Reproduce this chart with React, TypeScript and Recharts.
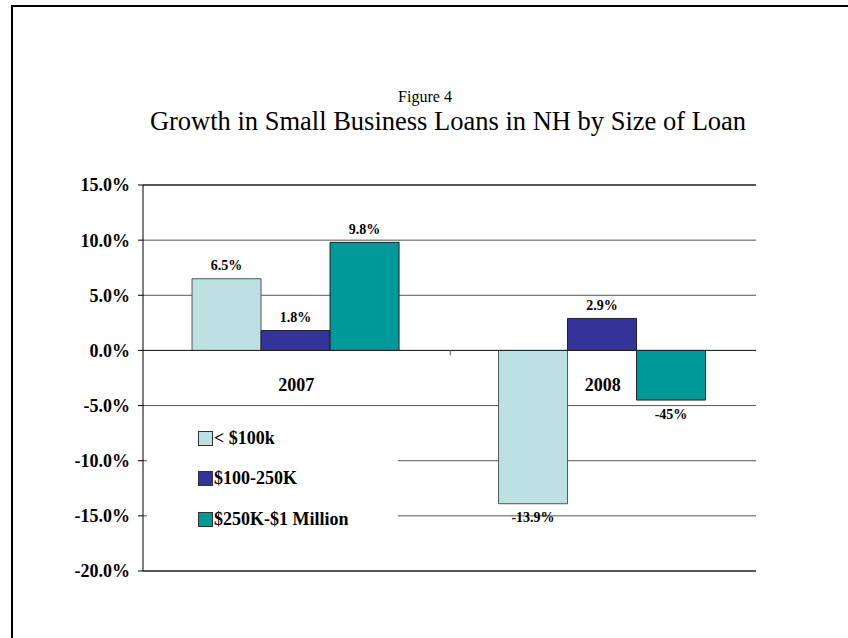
import { BarChart, Bar, XAxis, YAxis, CartesianGrid, Legend, LabelList, ReferenceLine } from 'recharts';

const years = ['2007', '2008'];
const under100k = [6.5, -13.9];
const k100to250 = [1.8, 2.9];
const k250to1m = [9.8, -4.5];
// label text as printed on the figure
const under100kLabels = ['6.5%', '-13.9%'];
const k100to250Labels = ['1.8%', '2.9%'];
const k250to1mLabels = ['9.8%', '-45%'];
const yTicks = [15, 10, 5, 0, -5, -10, -15, -20];

const SERIES = [
  { key: 'a', name: '< $100k', color: '#bde0e3', stroke: '#555', labels: under100kLabels },
  { key: 'b', name: '$100-250K', color: '#333399', stroke: '#222', labels: k100to250Labels },
  { key: 'c', name: '$250K-$1 Million', color: '#009999', stroke: '#222', labels: k250to1mLabels },
];

const data = years.map((year, i) => ({
  year,
  a: under100k[i],
  b: k100to250[i],
  c: k250to1m[i],
}));

const FONT = '"Liberation Serif", "Times New Roman", serif';
const PLOT_TOP = 185;
const PLOT_BOTTOM = 571;
const DOMAIN: [number, number] = [-20, 15];
const zeroY = PLOT_TOP + ((PLOT_BOTTOM - PLOT_TOP) * DOMAIN[1]) / (DOMAIN[1] - DOMAIN[0]);

const makeLabel = (labels: string[]) => (props: any) => {
  const { x, y, width, height, index, value } = props;
  const top = Math.min(y, y + height);
  const bottom = Math.max(y, y + height);
  const ty = value >= 0 ? top - 13 : bottom + 14;
  return (
    <text
      x={x + width / 2}
      y={ty}
      textAnchor="middle"
      dominantBaseline="central"
      fontFamily={FONT}
      fontWeight="bold"
      fontSize={14}
      fill="#000"
    >
      {labels[index]}
    </text>
  );
};

const YearTick = (props: any) => {
  const { x, payload, index } = props;
  return (
    <g>
      {index === 0 && <line x1={x + 154} x2={x + 154} y1={zeroY} y2={zeroY + 5} stroke="#555" />}
      <text
        x={x}
        y={zeroY + 35}
        textAnchor="middle"
        dominantBaseline="central"
        fontFamily={FONT}
        fontWeight="bold"
        fontSize={18}
        fill="#000"
      >
        {payload.value}
      </text>
    </g>
  );
};

const LegendBox = () => (
  <div style={{ background: '#fff', width: 251, height: 140, paddingTop: 4, boxSizing: 'border-box' }}>
    {SERIES.map((s) => (
      <div key={s.key} style={{ display: 'flex', alignItems: 'center', height: 40.5, paddingLeft: 51 }}>
        <span
          style={{
            width: 13,
            height: 13,
            background: s.color,
            border: '1px solid #333',
            display: 'inline-block',
            marginRight: 1,
          }}
        />
        <span style={{ fontFamily: FONT, fontWeight: 'bold', fontSize: 18, color: '#000', whiteSpace: 'pre' }}>
          {s.name}
        </span>
      </div>
    ))}
  </div>
);

export default function App() {
  return (
    <div style={{ position: 'absolute', left: 0, top: 0, width: 848, height: 638, background: '#fff', overflow: 'hidden' }}>
      <div
        style={{
          position: 'absolute',
          left: 11,
          top: 5,
          width: 900,
          height: 700,
          borderLeft: '2px solid #000',
          borderTop: '2px solid #000',
        }}
      />
      <div
        style={{
          position: 'absolute',
          left: 0,
          width: 850,
          top: 88,
          textAlign: 'center',
          fontFamily: FONT,
          fontSize: 16,
          lineHeight: '18px',
        }}
      >
        Figure 4
      </div>
      <div
        style={{
          position: 'absolute',
          left: 0,
          width: 896,
          top: 106,
          textAlign: 'center',
          fontFamily: FONT,
          fontSize: 26.5,
          lineHeight: '30px',
        }}
      >
        Growth in Small Business Loans in NH by Size of Loan
      </div>
      <div style={{ position: 'absolute', left: 0, top: 0 }}>
        <BarChart
          width={848}
          height={638}
          data={data}
          margin={{ top: PLOT_TOP, right: 92, bottom: 638 - PLOT_BOTTOM - 10, left: 0 }}
          barCategoryGap="16%"
          barGap={0}
        >
          <CartesianGrid vertical={false} stroke="#555" strokeOpacity={1} />
          <XAxis
            dataKey="year"
            height={10}
            axisLine={false}
            tickLine={false}
            tick={YearTick}
            interval={0}
          />
          <YAxis
            width={143}
            domain={DOMAIN}
            ticks={yTicks}
            allowDataOverflow
            interval={0}
            tickSize={5}
            tickMargin={8}
            axisLine={{ stroke: '#000' }}
            tickLine={{ stroke: '#000' }}
            tickFormatter={(v: number) => `${v.toFixed(1)}%`}
            tick={{ fontFamily: FONT, fontWeight: 'bold', fontSize: 18, fill: '#000' }}
          />
          <YAxis
            yAxisId="r"
            orientation="right"
            width={0}
            domain={DOMAIN}
            tick={false}
            tickLine={false}
            axisLine={{ stroke: '#777' }}
          />
          <ReferenceLine y={15} stroke="#000" />
          <ReferenceLine y={-20} stroke="#000" />
          <ReferenceLine y={0} stroke="#222" />
          <Legend
            layout="horizontal"
            verticalAlign="middle"
            align="center"
            content={<LegendBox />}
            wrapperStyle={{ position: 'absolute', left: 147, top: 414, width: 251, height: 140 }}
          />
          {SERIES.map((s) => (
            <Bar
              key={s.key}
              dataKey={s.key}
              name={s.name}
              fill={s.color}
              stroke={s.stroke}
              strokeWidth={1}
              isAnimationActive={false}
            >
              <LabelList dataKey={s.key} content={makeLabel(s.labels)} />
            </Bar>
          ))}
        </BarChart>
      </div>
    </div>
  );
}
